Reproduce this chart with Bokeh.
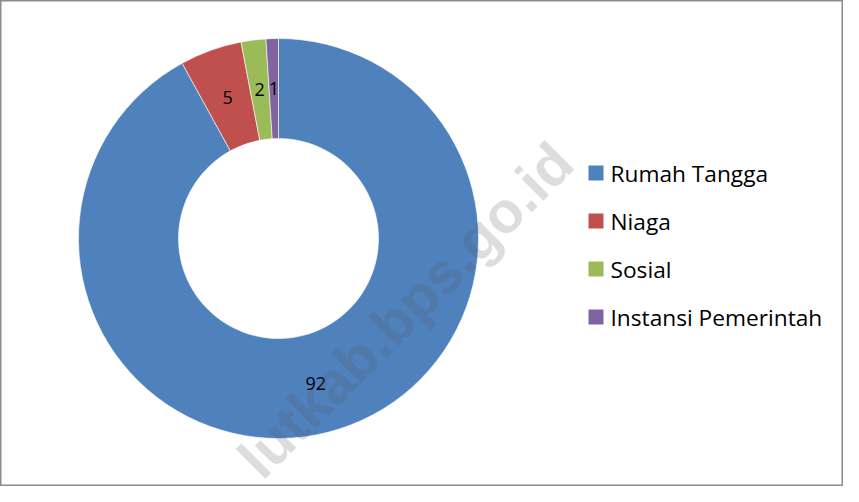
import math
from bokeh.plotting import figure
from bokeh.models import Range1d, ColumnDataSource, Label
from bokeh.core.properties import value
from bokeh.embed import file_html
from bokeh.resources import INLINE

# ---- data ----
categories = ["Rumah Tangga", "Niaga", "Sosial", "Instansi Pemerintah"]
values = [92, 5, 2, 1]
colors = ["#4F81BD", "#C0504D", "#9BBB59", "#8064A2"]
watermark = "lutkab.bps.go.id"

# ---- layout (pixel-like data space) ----
W, H = 843, 486
CX, CY = 278, 248
R_OUT, R_IN = 200, 100
R_LAB = 150

total = float(sum(values))
starts, ends, mids = [], [], []
acc = 0.0
for v in values:
    s = math.pi / 2 - 2 * math.pi * acc / total
    acc += v
    e = math.pi / 2 - 2 * math.pi * acc / total
    starts.append(s)
    ends.append(e)
    mids.append((s + e) / 2)

src = ColumnDataSource(dict(
    cat=categories, val=values, color=colors,
    start=starts, end=ends,
    lx=[CX + R_LAB * math.cos(m) for m in mids],
    ly=[CY + R_LAB * math.sin(m) for m in mids],
    txt=[str(v) for v in values],
))

p = figure(width=W, height=H, output_backend="svg", toolbar_location=None,
           x_range=Range1d(0, W), y_range=Range1d(0, H),
           min_border=0, border_fill_color="white", background_fill_color="white")
p.axis.visible = False
p.grid.visible = False
p.outline_line_color = "#8c8c8c"
p.outline_line_width = 2

p.annular_wedge(x=CX, y=CY, inner_radius=R_IN, outer_radius=R_OUT,
                start_angle="start", end_angle="end", direction="clock",
                fill_color="color", line_color="white", line_width=0.6,
                source=src)

p.text(x="lx", y="ly", text="txt", source=src,
       text_font=value("Open Sans"), text_font_size="18px",
       text_color="black", text_align="center", text_baseline="middle")

# legend drawn manually
LX, LY0, LSTEP = 595.5, 313.5, 48
leg = ColumnDataSource(dict(
    x=[LX] * len(categories),
    y=[LY0 - i * LSTEP for i in range(len(categories))],
    tx=[LX + 14.5] * len(categories),
    cat=categories, color=colors,
))
p.rect(x="x", y="y", width=15, height=15, fill_color="color",
       line_color=None, source=leg)
p.text(x="tx", y="y", text="cat", source=leg,
       text_font=value("Open Sans"), text_font_size="22.7px",
       text_color="black", text_align="left", text_baseline="middle")

# watermark (diagonal, semi-transparent)
wm = Label(x=404.75, y=176.75, x_units="data", y_units="data",
           text=watermark, angle=math.pi / 4,
           text_font="Liberation Sans", text_font_style="bold",
           text_font_size="58px", text_color="#555555", text_alpha=0.2,
           text_align="center", text_baseline="alphabetic")
p.add_layout(wm)

open("out.html", "w").write(file_html(p, INLINE))
